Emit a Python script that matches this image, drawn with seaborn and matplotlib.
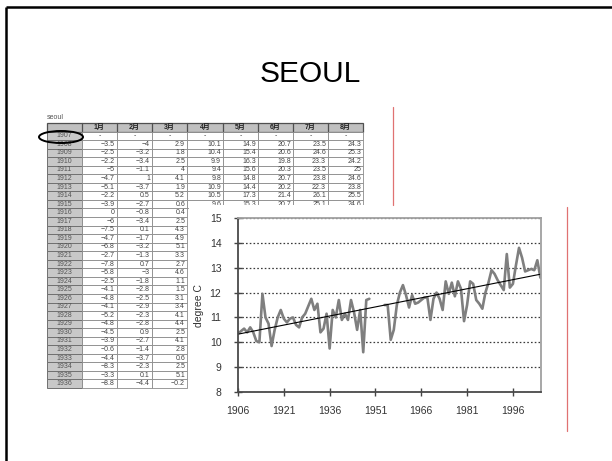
import numpy as np
import pandas as pd
import matplotlib
matplotlib.use("Agg")
import matplotlib.pyplot as plt
import seaborn as sns
from matplotlib.patches import Rectangle, Ellipse

# Seoul annual mean temperature (degree C); 1950-1953 missing
years = list(range(1906, 2006))
temps = [
    10.35, 10.45, 10.55, 10.4, 10.6, 10.4, 10.05, 10.0, 11.95, 11.0,
    10.75, 9.85, 10.5, 11.0, 11.3, 10.95, 10.8, 10.95, 11.0, 10.7,
    10.6, 11.0, 11.15, 11.45, 11.75, 11.3, 11.55, 10.4, 10.55, 11.15,
    9.75, 11.3, 11.0, 11.7, 10.9, 11.15, 10.9, 11.7, 11.2, 10.5,
    11.3, 9.6, 11.7, 11.75,
    np.nan, np.nan, np.nan, np.nan,
    11.5, 11.5, 10.1, 10.5, 11.5, 12.0, 12.3, 11.9, 11.4, 11.9,
    11.55, 11.6, 11.7, 11.8, 11.8, 10.9, 11.75, 12.0, 11.75, 11.3,
    12.45, 11.95, 12.4, 11.85, 12.45, 12.15, 10.85, 11.5, 12.45, 12.35,
    11.7, 11.55, 11.35, 12.0, 12.4, 12.9, 12.75, 12.5, 12.3, 12.1,
    13.55, 12.2, 12.35, 13.1, 13.8, 13.4, 12.85, 12.9, 12.95, 12.9,
    13.3, 12.6,
]
x_ticks = list(range(1906, 2000, 15))
y_ticks = list(range(8, 16))

# monthly table excerpt (seoul sheet)
table_years = list(range(1907, 1937))
months = ["1月", "2月", "3月", "4月", "5月", "6月", "7月", "8月"]
jan = ["-", -3.5, -2.5, -2.2, -5, -4.7, -5.1, -2.2, -3.9, 0, -6, -7.5, -4.7, -6.8, -2.7,
       -7.8, -5.8, -2.5, -4.1, -4.8, -4.1, -5.2, -4.8, -4.5, -3.9, -0.6, -4.4, -8.3, -3.3, -8.8]
feb = ["-", -4, -3.2, -3.4, -1.1, 1, -3.7, 0.5, -2.7, -0.8, -3.4, 0.1, -1.7, -3.2, -1.3,
       0.7, -3, -1.8, -2.8, -2.5, -2.9, -2.3, -2.8, 0.9, -2.7, -1.4, -3.7, -2.3, 0.1, -4.4]
mar = ["-", 2.9, 1.8, 2.5, 4, 4.1, 1.9, 5.2, 0.6, 0.4, 2.5, 4.3, 4.9, 5.1, 3.3,
       2.7, 4.6, 1.1, 1.5, 3.1, 3.4, 4.1, 4.4, 2.5, 4.1, 2.8, 0.6, 2.5, 5.1, -0.2]
apr = ["-", 10.1, 10.4, 9.9, 9.4, 9.8, 10.9, 10.5, 9.6]
may = ["-", 14.9, 15.4, 16.3, 15.6, 14.8, 14.4, 17.3, 15.3]
jun = ["-", 20.7, 20.6, 19.8, 20.3, 20.7, 20.2, 21.4, 20.7]
jul = ["-", 23.5, 24.6, 23.3, 23.5, 23.8, 22.3, 26.1, 25.1]
aug = ["-", 24.3, 25.3, 24.2, 25, 24.6, 23.8, 25.5, 24.6]
month_cols = [jan, feb, mar, apr, may, jun, jul, aug]

sns.set_style("white")
plt.rcParams["font.family"] = ["Liberation Sans", "Noto Sans CJK JP", "DejaVu Sans"]

W, H = 612, 461
fig = plt.figure(figsize=(W / 100, H / 100), dpi=100)

# slide layer in pixel units
page = fig.add_axes([0, 0, 1, 1])
page.set_xlim(0, W)
page.set_ylim(H, 0)
page.axis("off")

page.plot([6, 6], [7, H], color="black", lw=1.8, solid_capstyle="butt")
page.plot([6, W], [7, 7], color="black", lw=1.8, solid_capstyle="butt")
page.text(310, 74, "SEOUL", fontsize=21.5, ha="center", va="center", color="black")

# spreadsheet excerpt
col_edges = [47, 82, 117, 152, 187, 223, 258, 293, 328, 363]
head_top, head_bot, row_h = 123, 131.5, 8.55
cell_fs = 5.0
page.text(47, 117, "seoul", fontsize=5, color="#555", ha="left", va="center")
page.add_patch(Rectangle((col_edges[0], head_top), col_edges[-1] - col_edges[0],
                         head_bot - head_top, fc="#c0c0c0", ec="#505050", lw=0.9))
for j, m in enumerate(months):
    x0, x1 = col_edges[j + 1], col_edges[j + 2]
    page.plot([x0, x0], [head_top, head_bot], color="#505050", lw=0.9)
    page.text((x0 + x1) / 2, (head_top + head_bot) / 2, m, fontsize=5,
              fontweight="bold", ha="center", va="center", color="#222")
for i, yr in enumerate(table_years):
    y0 = head_bot + i * row_h
    y1 = y0 + row_h
    page.add_patch(Rectangle((col_edges[0], y0), col_edges[1] - col_edges[0], row_h,
                             fc="#c8c8c8", ec="#707070", lw=0.7))
    page.text((col_edges[0] + col_edges[1]) / 2, (y0 + y1) / 2, str(yr), fontsize=cell_fs,
              ha="center", va="center", color="#555")
    for j, col in enumerate(month_cols):
        if i >= len(col):
            continue
        x0, x1 = col_edges[j + 1], col_edges[j + 2]
        page.add_patch(Rectangle((x0, y0), x1 - x0, row_h, fc="white", ec="#8a8a8a", lw=0.6))
        v = col[i]
        if v == "-":
            page.text((x0 + x1) / 2, (y0 + y1) / 2, "-", fontsize=cell_fs,
                      ha="center", va="center", color="#444")
        else:
            page.text(x1 - 2, (y0 + y1) / 2, f"{v:g}".replace("-", "\u2212"), fontsize=cell_fs,
                      ha="right", va="center", color="#444")
page.add_patch(Ellipse((61, 137), 44, 12, fill=False, ec="black", lw=1.4, zorder=5))

# pasted chart background and guide lines
page.add_patch(Rectangle((189, 205), 567 - 189, 431 - 205, fc="white", ec="none", zorder=6))
page.plot([393, 393], [107, 205], color="#e07272", lw=0.9, zorder=7)
page.plot([567, 567], [207, 431], color="#e07272", lw=0.9, zorder=7)

# temperature chart
ax = fig.add_axes([238 / W, 1 - 392 / H, 303 / W, 174 / H])
df = pd.DataFrame({"year": years, "temp": temps})
df["period"] = np.where(df["year"] < 1952, "pre", "post")
df = df.dropna()
sns.lineplot(data=df, x="year", y="temp", units="period", estimator=None,
             color="#7f7f7f", lw=1.9, ax=ax)

slope, intercept = np.polyfit(df["year"], df["temp"], 1)
trend = pd.DataFrame({"year": [years[0], years[-1]]})
trend["temp"] = intercept + slope * trend["year"]
sns.lineplot(data=trend, x="year", y="temp", color="black", lw=0.8, ax=ax)

ax.set_xlim(years[0], years[-1] + 0.2)
ax.set_ylim(y_ticks[0], y_ticks[-1])
ax.set_xticks(x_ticks)
ax.set_yticks(y_ticks)
ax.yaxis.grid(True, linestyle=(0, (1.3, 1.7)), color="#3a3a3a", lw=0.9)
ax.xaxis.grid(False)
ax.set_axisbelow(True)
for side in ["left", "bottom"]:
    ax.spines[side].set_color("#4a4a4a")
    ax.spines[side].set_linewidth(1.3)
for side in ["top", "right"]:
    ax.spines[side].set_color("#a0a0a0")
    ax.spines[side].set_linewidth(1.3)
ax.tick_params(bottom=True, left=True, direction="inout", length=6, width=1,
               color="#444444", labelsize=7.5, labelcolor="#333333")
ax.tick_params(axis="y", pad=9)
ax.tick_params(axis="x", pad=7)
ax.set_xlabel("")
ax.set_ylabel("degree C", fontsize=7.5, color="#333333")
ax.yaxis.set_label_coords(-0.112, 0.5)

fig.savefig("out.png", dpi=100)
